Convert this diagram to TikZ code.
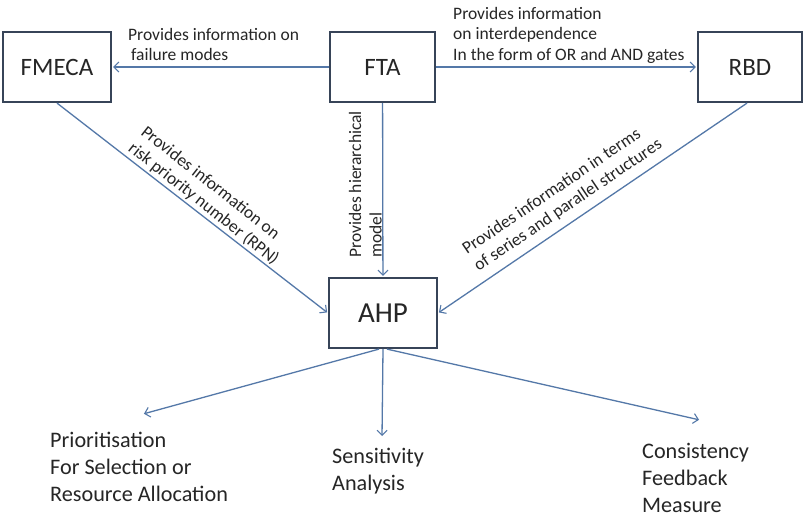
\documentclass[tikz,border=0pt]{standalone}
\usepackage{fontspec}
\setmainfont{Carlito}
\usetikzlibrary{arrows.meta}
\definecolor{boxline}{RGB}{55,68,88}
\definecolor{flow}{RGB}{84,120,168}
\definecolor{ink}{RGB}{38,38,38}

\begin{document}
\begin{tikzpicture}[x=1pt,y=-1pt,
  blockbox/.style={draw=boxline, line width=2.2pt, fill=white,
    minimum width=108pt, minimum height=70pt, inner sep=0pt,
    font=\fontsize{25}{29}\selectfont, text=ink},
  flowarrow/.style={draw=flow, line width=1.3pt, shorten >=1pt,
    -{Straight Barb[length=5pt,width=10pt,line width=1.1pt]}},
  note/.style={inner sep=0pt, align=left, text=ink, anchor=base west,
    font=\fontsize{17.5}{20.5}\selectfont},
  outcome/.style={inner sep=0pt, align=left, text=ink, anchor=base west,
    font=\fontsize{22.2}{27}\selectfont}]

  \useasboundingbox[fill=white] (0,0) rectangle (805,519);

  % methods and the decision model
  \node[blockbox] (fmeca) at (57,67) {FMECA};
  \node[blockbox, minimum width=105pt] (fta) at (382.5,67) {FTA};
  \node[blockbox, minimum width=104pt] (rbd) at (750,67) {RBD};
  \node[blockbox, font=\fontsize{29}{33}\selectfont] (ahp) at (383,313) {AHP};

  % information passed between the methods
  \draw[flowarrow] (fta) -- (fmeca);
  \draw[flowarrow] (fta) -- (rbd);
  \draw[flowarrow] (fta) -- (ahp);
  \draw[flowarrow] (fmeca.south) -- (ahp.west);
  \draw[flowarrow] ([xshift=-3pt]rbd.south) -- (ahp.east);

  % labels: each is anchored at the baseline of its last line
  \node[note] (lblfail) at (128,60.5)
    {Provides information on\\\hspace*{3pt}failure modes};
  \node[note] (lblgates) at (453,60)
    {Provides information\\on interdependence\\In the form of OR and AND gates};
  \node[note, rotate=90] (lblhier) at (381.5,258)
    {Provides hierarchical\\model};
  \node[note, rotate=-38.2] (lblrpn) at (127.3,150.1)
    {Provides information on\\risk priority number (RPN)};
  \node[note, rotate=34.1] (lblseries) at (478.5,272)
    {Provides information in terms\\of series and parallel structures};

  % outcomes of the AHP
  \coordinate (priotip) at (143,414);
  \coordinate (senstip) at (382,437);
  \coordinate (constip) at (700,420);
  \draw[flowarrow] ([xshift=-4pt]ahp.south) -- (priotip);
  \draw[flowarrow] (ahp.south) -- (senstip);
  \draw[flowarrow] ([xshift=4pt]ahp.south) -- (constip);

  \node[outcome] (prio) at (50,501)
    {Prioritisation\\For Selection or\\Resource Allocation};
  \node[outcome] (sens) at (332,490) {Sensitivity\\Analysis};
  \node[outcome] (cons) at (642,512) {Consistency\\Feedback\\Measure};
\end{tikzpicture}
\end{document}
